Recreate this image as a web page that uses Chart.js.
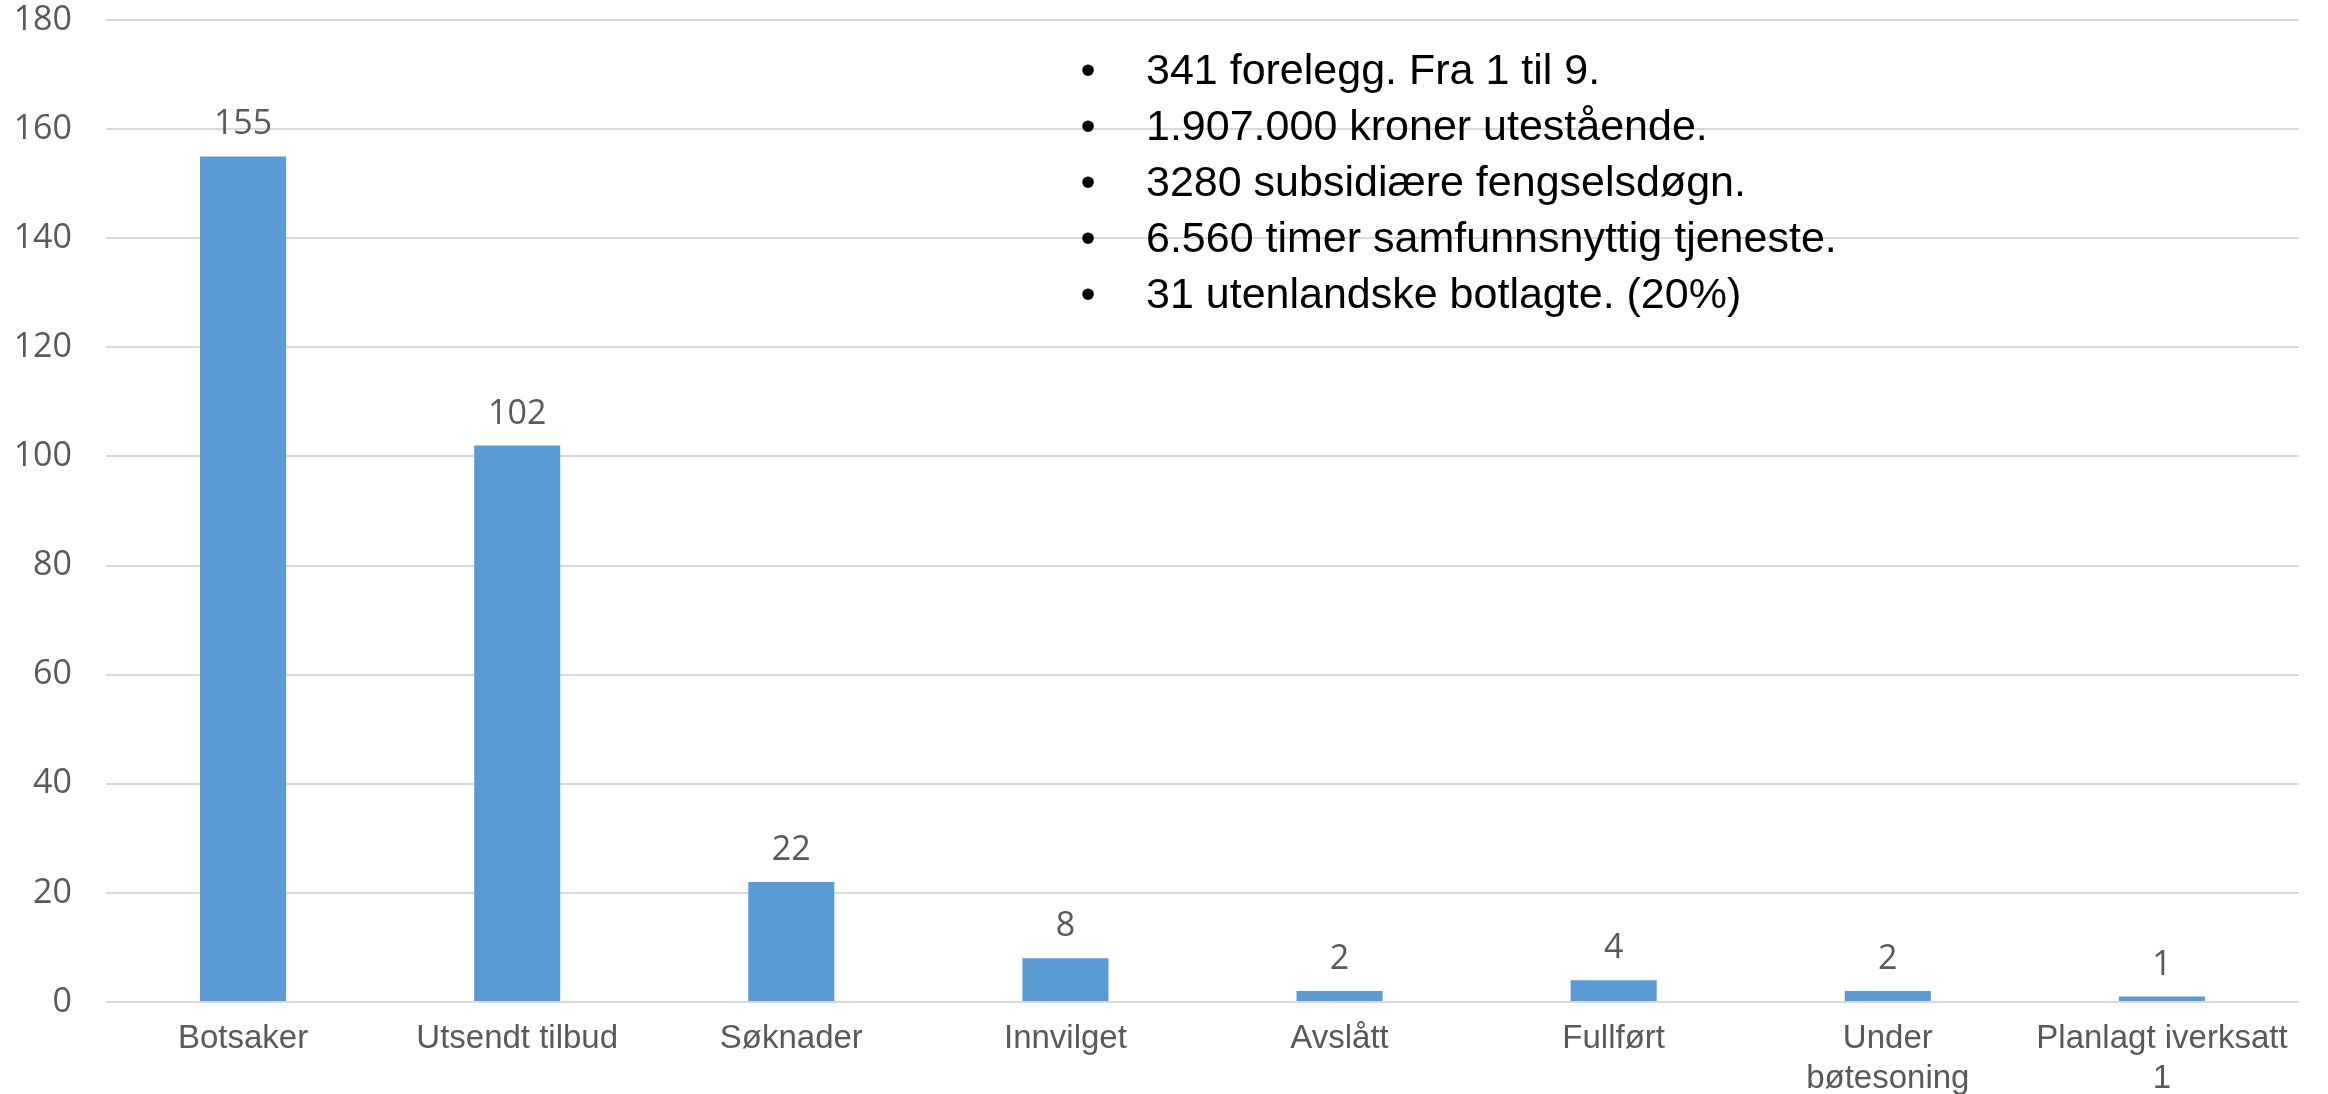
<!DOCTYPE html>
<html>
<head>
<meta charset="utf-8">
<script src="https://cdn.jsdelivr.net/npm/chart.js@4.4.1/dist/chart.umd.min.js"></script>
<style>
  html, body { margin: 0; background: #fff; }
  #wrap { width: 2328px; height: 1094px; }
</style>
</head>
<body>
<div id="wrap"><canvas id="botChart"></canvas></div>
<script>
const categories = ['Botsaker', 'Utsendt tilbud', 'Søknader', 'Innvilget', 'Avslått', 'Fullført',
                    ['Under', 'bøtesoning'], ['Planlagt iverksatt', '1']];
const counts = [155, 102, 22, 8, 2, 4, 2, 1];
const yMin = 0, yMax = 180, yStep = 20;
const notes = [
  '341 forelegg. Fra 1 til 9.',
  '1.907.000 kroner utestående.',
  '3280 subsidiære fengselsdøgn.',
  '6.560 timer samfunnsnyttig tjeneste.',
  '31 utenlandske botlagte. (20%)'
];

const BAR   = '#5B9BD5';
const GRID  = '#D9D9D9';
const LABEL = '#595959';

/* value above each bar */
const barValues = {
  id: 'barValues',
  afterDatasetsDraw(chart) {
    const { ctx } = chart;
    ctx.save();
    ctx.font = '34px "Open Sans"';
    ctx.fillStyle = LABEL;
    ctx.textAlign = 'center';
    ctx.textBaseline = 'alphabetic';
    chart.getDatasetMeta(0).data.forEach((bar, i) => {
      ctx.fillText(String(counts[i]), bar.x, bar.y - 22);
    });
    ctx.restore();
  }
};

/* bullet list over the plot */
const noteBox = {
  id: 'noteBox',
  afterDraw(chart) {
    const { ctx } = chart;
    ctx.save();
    ctx.fillStyle = '#000';
    ctx.textBaseline = 'middle';
    ctx.font = '43px "Liberation Sans"';
    notes.forEach((t, i) => {
      const y = 72 + i * 56;
      ctx.textAlign = 'center';
      ctx.fillText('•', 1088, y);
      ctx.textAlign = 'left';
      ctx.fillText(t, 1146, y);
    });
    ctx.restore();
  }
};

new Chart(document.getElementById('botChart'), {
  type: 'bar',
  data: {
    labels: categories,
    datasets: [{
      data: counts,
      backgroundColor: BAR,
      borderWidth: 0,
      categoryPercentage: 1,
      barPercentage: 0.314
    }]
  },
  options: {
    responsive: true,
    maintainAspectRatio: false,
    animation: false,
    devicePixelRatio: 1,
    layout: { padding: { top: 0, right: 29, bottom: 0, left: 0 } },
    plugins: { legend: { display: false }, tooltip: { enabled: false } },
    scales: {
      x: {
        grid: { display: false, drawTicks: false },
        border: { display: false },
        ticks: {
          color: LABEL,
          font: { family: 'Liberation Sans', size: 33, lineHeight: 1.22 },
          padding: 17,
          maxRotation: 0,
          autoSkip: false
        },
        afterFit: s => { s.height = 92; }
      },
      y: {
        min: yMin,
        max: yMax,
        grid: { color: GRID, lineWidth: 2, drawTicks: false },
        border: { display: false },
        ticks: {
          stepSize: yStep,
          color: LABEL,
          font: { family: 'Open Sans', size: 34, lineHeight: 1 },
          padding: 34
        },
        afterFit: s => {
          s.width = 106;
          s.paddingTop = 20;
          s.paddingBottom = 0;
        }
      }
    }
  },
  plugins: [barValues, noteBox]
});
</script>
</body>
</html>
